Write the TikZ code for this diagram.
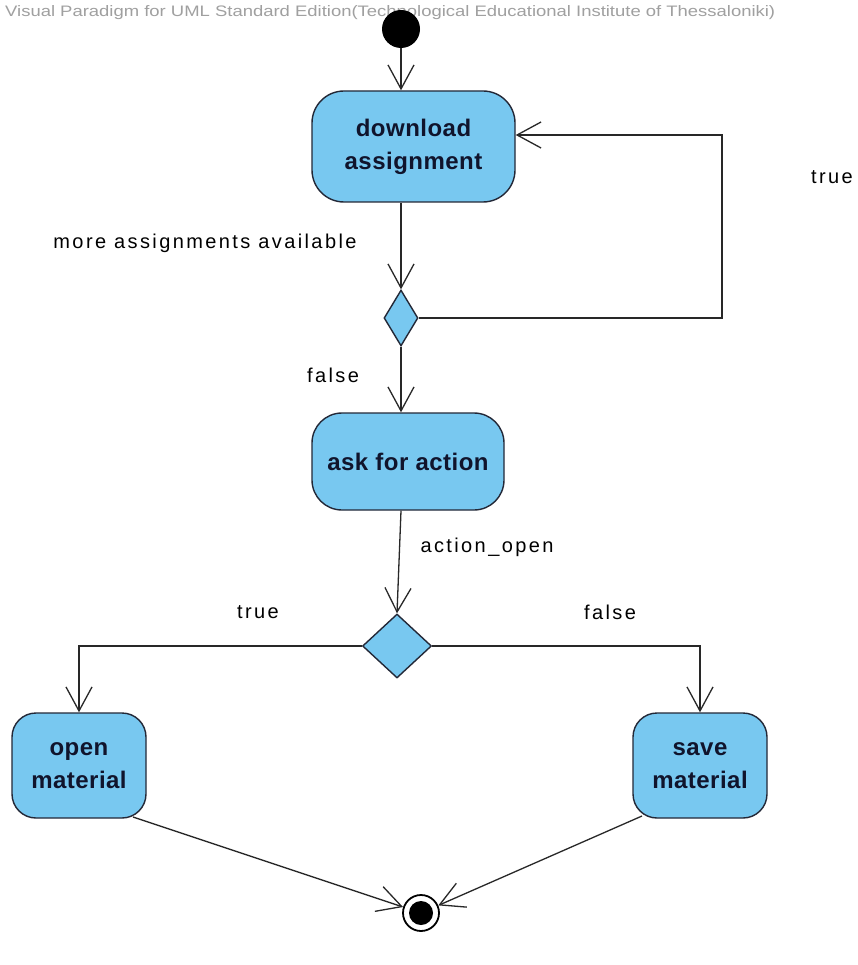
\documentclass[tikz,border=0pt]{standalone}
\usepackage{fontspec}
\setmainfont{Liberation Sans}
\newfontfamily\boxfamily[LetterSpace=2]{Liberation Sans}
\newfontfamily\lblfamily[LetterSpace=12]{Liberation Sans}
\usetikzlibrary{arrows.meta,shapes.geometric}

\definecolor{actfill}{RGB}{120,200,240}
\definecolor{actline}{RGB}{35,40,55}
\definecolor{acttext}{RGB}{16,20,44}
\definecolor{flowcol}{RGB}{40,40,40}
\definecolor{wmark}{RGB}{160,160,160}

\begin{document}
\begin{tikzpicture}[x=1pt,y=-1pt,
  action/.style={draw=actline, line width=1.4pt, fill=actfill,
    rounded corners=#1, inner sep=0pt, align=center, text=acttext,
    font=\boxfamily\bfseries\fontsize{24}{33}\selectfont},
  action/.default=30pt,
  decision/.style={diamond, draw=actline, line width=1.4pt, fill=actfill, inner sep=0pt},
  startnode/.style={circle, fill=black, inner sep=0pt, minimum size=38pt},
  endnode/.style={circle, draw=black, line width=1.8pt, fill=white, inner sep=0pt,
    minimum size=36pt,
    path picture={\fill[black] (path picture bounding box.center) circle (12pt);}},
  flowline/.style={draw=flowcol, line width=1.3pt,
    -{Straight Barb[length=24pt,width=26pt]}},
  lbl/.style={inner sep=0pt, text=black,
    font=\lblfamily\fontsize{20}{23}\selectfont}
]
\useasboundingbox[fill=white] (0,0) rectangle (858,965);

% tool watermark
\node[anchor=base west, inner sep=0pt, text=wmark] (wm) at (5,17)
  {\resizebox{770pt}{11pt}{\fontsize{14}{14}\selectfont Visual Paradigm for UML Standard Edition(Technological Educational Institute of Thessaloniki)}};

% activity nodes
\node[startnode] (init) at (401,29) {};
\node[action=32pt, minimum width=203pt, minimum height=111pt] (dl) at (413.5,146.5) {download\\assignment};
\node[decision, minimum width=34pt, minimum height=56pt] (d1) at (401,318) {};
\node[action, minimum width=192pt, minimum height=97pt] (ask) at (408,461.5) {ask for action};
\node[decision, minimum width=69pt, minimum height=64pt] (d2) at (397,646) {};
\node[action=24pt, minimum width=134pt, minimum height=105pt] (open) at (79,765.5) {open\\material};
\node[action=24pt, minimum width=134pt, minimum height=105pt] (save) at (700,765.5) {save\\material};
\node[endnode] (fin) at (421,913) {};

% helper points for the loop and the exits toward the final node
\coordinate (loopc) at (722,135);
\coordinate (openexit) at (133,817);
\coordinate (saveexit) at (642,816);

% control flows
\draw[flowline] (init) -- (init |- dl.north);
\draw[flowline] (dl.south -| d1) -- (d1.north);
\draw[flowline] (d1.east) -| (loopc) -- (loopc -| dl.east);
\draw[flowline] (d1.south) -- (d1.south |- ask.north);
\draw[flowline] (ask.south -| d1) -- (d2.north);
\draw[flowline] (d2.west) -| (open.north);
\draw[flowline] (d2.east) -| (save.north);
\draw[flowline] (openexit) -- (fin);
\draw[flowline] (saveexit) -- (fin);

% guard labels
\node[lbl] (lmore) at (205,243) {more assignments available};
\node[lbl] (lfalse1) at (333,375) {false};
\node[lbl] (ltrue1) at (832,177) {true};
\node[lbl] (laction) at (487,547) {action\_open};
\node[lbl] (ltrue2) at (258,612) {true};
\node[lbl] (lfalse2) at (610,612) {false};
\end{tikzpicture}
\end{document}
